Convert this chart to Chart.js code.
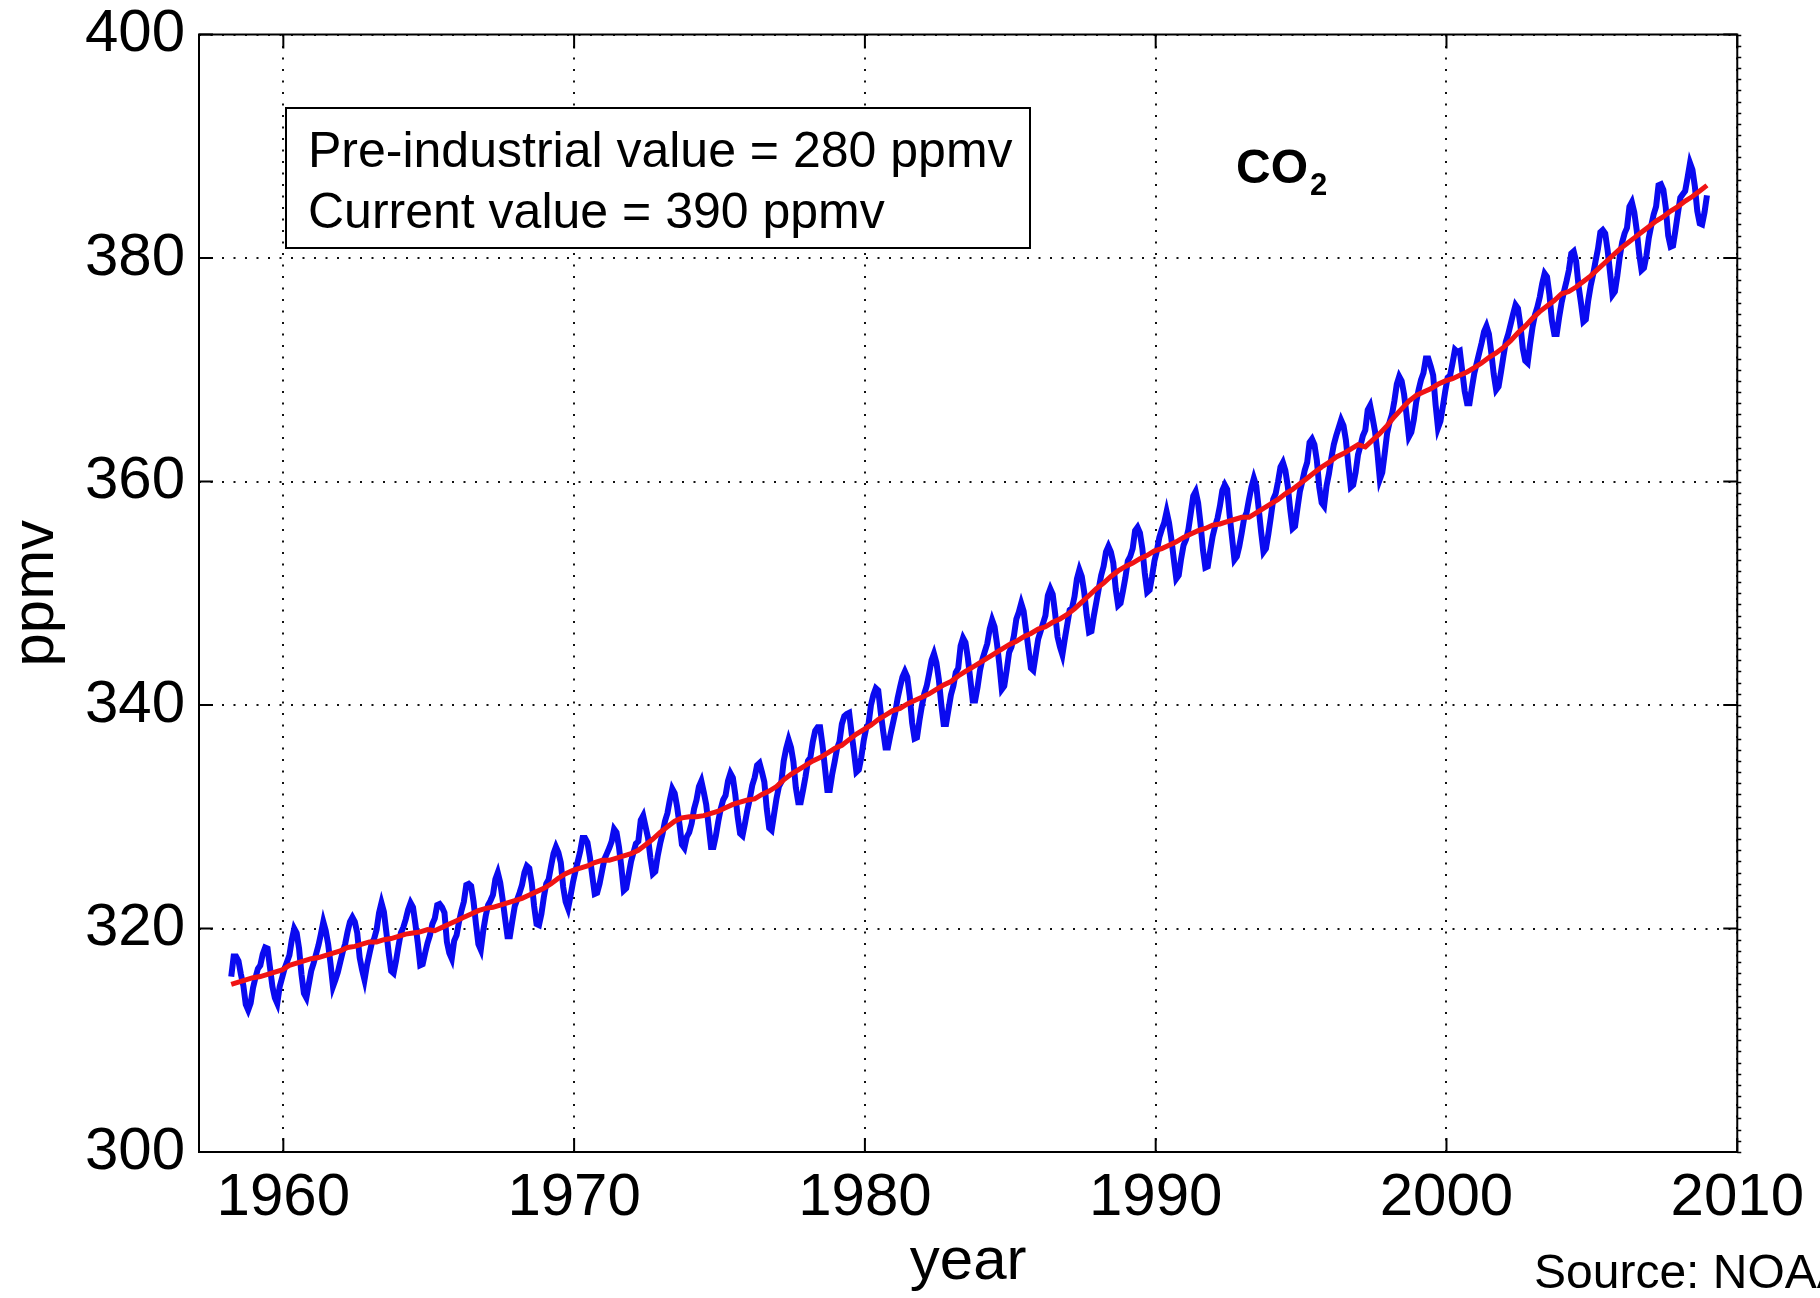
<!DOCTYPE html>
<html>
<head>
<meta charset="utf-8">
<title>Atmospheric CO2 – Mauna Loa</title>
<script src="https://cdn.jsdelivr.net/npm/chart.js@4.4.1/dist/chart.umd.min.js"></script>
<style>
  html, body { margin: 0; padding: 0; background: #fff; }
  #wrap { width: 1820px; height: 1298px; position: relative; }
  canvas { display: block; }
</style>
</head>
<body>
<div id="wrap"><canvas id="co2" width="1820" height="1298"></canvas></div>
<script>
// Monthly mean CO2 (ppmv), one row per year starting in 1958, Jan..Dec
const firstYear = 1958;
const co2Monthly = [
  [null, null, 315.7, 317.5, 317.5, 317.1, 315.9, 314.9, 313.2, 312.7, 313.3, 314.7],
  [315.6, 316.4, 316.7, 317.7, 318.3, 318.2, 316.5, 314.8, 313.8, 313.3, 314.8, 315.6],
  [316.4, 317.0, 317.6, 319.0, 320.0, 319.6, 318.2, 315.9, 314.2, 313.8, 315.0, 316.2],
  [316.9, 317.7, 318.5, 319.5, 320.6, 319.8, 318.6, 316.8, 314.8, 315.4, 316.1, 317.0],
  [317.9, 318.6, 319.7, 320.6, 321.0, 320.6, 319.6, 317.4, 316.3, 315.4, 316.7, 317.7],
  [318.7, 319.1, 319.9, 321.4, 322.3, 321.5, 319.7, 317.8, 316.2, 316.0, 317.1, 318.4],
  [319.6, 320.1, 320.8, 321.7, 322.3, 321.9, 320.4, 318.7, 316.7, 316.8, 317.8, 318.7],
  [319.4, 320.4, 320.9, 322.1, 322.2, 321.9, 321.4, 318.8, 317.8, 317.3, 318.9, 319.4],
  [320.6, 321.6, 322.4, 323.9, 324.0, 323.8, 322.4, 320.4, 318.6, 318.1, 319.8, 321.1],
  [322.1, 322.5, 323.0, 324.4, 325.0, 324.1, 322.6, 320.9, 319.3, 319.3, 320.7, 322.0],
  [322.6, 323.2, 323.9, 325.0, 325.6, 325.4, 324.1, 322.0, 320.4, 320.3, 321.3, 322.8],
  [324.0, 324.4, 325.6, 326.7, 327.3, 326.8, 325.9, 323.7, 322.4, 321.8, 322.9, 324.1],
  [325.1, 326.0, 326.9, 328.1, 328.1, 327.7, 326.4, 324.7, 323.1, 323.2, 324.0, 325.1],
  [326.2, 326.7, 327.2, 327.8, 328.9, 328.6, 327.3, 325.5, 323.4, 323.6, 324.8, 326.0],
  [326.8, 327.6, 327.8, 329.7, 330.1, 329.1, 328.1, 326.3, 324.9, 325.1, 326.5, 327.6],
  [328.5, 329.6, 330.3, 331.5, 332.5, 332.1, 330.9, 329.3, 327.5, 327.2, 328.2, 328.6],
  [329.4, 330.7, 331.5, 332.7, 333.2, 332.2, 331.1, 329.2, 327.3, 327.3, 328.3, 329.6],
  [330.7, 331.5, 331.9, 333.2, 333.9, 333.5, 332.0, 330.0, 328.5, 328.3, 329.4, 330.6],
  [331.6, 332.8, 333.5, 334.6, 334.8, 334.0, 333.1, 330.7, 329.0, 328.8, 330.2, 331.6],
  [332.7, 333.1, 335.0, 336.1, 336.9, 336.2, 334.9, 332.6, 331.3, 331.3, 332.4, 333.6],
  [335.0, 335.3, 336.7, 337.7, 338.0, 338.0, 336.4, 334.4, 332.4, 332.4, 333.8, 334.9],
  [336.1, 336.7, 338.3, 339.0, 339.2, 339.3, 337.5, 335.8, 334.0, 334.2, 335.3, 336.8],
  [337.9, 338.3, 340.0, 340.9, 341.5, 341.3, 339.4, 337.7, 336.2, 336.2, 337.3, 338.3],
  [339.3, 340.6, 341.6, 342.5, 343.0, 342.5, 340.8, 338.4, 337.0, 337.1, 338.6, 339.9],
  [341.0, 341.7, 342.8, 344.0, 344.6, 343.8, 342.3, 340.1, 338.3, 338.3, 339.6, 340.9],
  [341.7, 342.9, 343.3, 345.3, 346.0, 345.6, 344.2, 342.3, 340.4, 340.4, 341.6, 343.1],
  [344.1, 344.8, 345.5, 346.8, 347.6, 347.0, 345.5, 343.6, 341.4, 341.7, 343.1, 344.7],
  [345.2, 346.2, 347.7, 348.3, 349.1, 348.4, 346.7, 345.0, 343.3, 343.1, 344.5, 345.9],
  [346.6, 347.3, 348.0, 349.8, 350.4, 349.9, 348.2, 346.1, 345.2, 344.5, 345.9, 347.2],
  [348.5, 348.7, 349.7, 351.3, 352.1, 351.5, 350.1, 348.1, 346.5, 346.6, 348.0, 349.2],
  [350.4, 351.6, 352.4, 353.7, 354.2, 353.7, 352.7, 350.4, 348.9, 349.1, 350.2, 351.4],
  [352.9, 353.3, 354.0, 355.6, 355.9, 355.4, 354.0, 351.8, 350.1, 350.3, 351.5, 352.9],
  [353.8, 355.0, 355.7, 356.3, 357.3, 356.3, 354.8, 353.0, 351.3, 351.6, 353.1, 354.3],
  [354.8, 355.7, 357.2, 358.7, 359.1, 358.1, 356.2, 353.9, 352.3, 352.4, 353.8, 355.1],
  [356.0, 356.7, 357.8, 359.2, 359.7, 359.3, 357.0, 355.0, 353.0, 353.3, 354.2, 355.4],
  [356.7, 357.2, 358.4, 359.5, 360.3, 359.6, 357.6, 355.5, 353.7, 354.0, 355.3, 356.8],
  [358.4, 358.9, 360.0, 361.3, 361.7, 361.0, 359.6, 357.5, 355.8, 356.0, 357.6, 359.1],
  [360.0, 361.0, 361.7, 363.5, 363.8, 363.3, 361.9, 359.5, 358.1, 357.8, 359.6, 360.7],
  [362.1, 363.3, 364.1, 364.8, 365.5, 365.0, 363.7, 361.5, 359.5, 359.7, 360.8, 362.4],
  [363.2, 364.1, 364.6, 366.4, 366.8, 365.7, 364.5, 362.6, 360.2, 360.8, 362.5, 364.3],
  [365.3, 366.0, 367.2, 368.7, 369.4, 369.0, 367.8, 366.0, 364.0, 364.4, 365.5, 367.1],
  [368.2, 369.1, 369.7, 371.0, 371.0, 370.3, 369.5, 366.9, 364.8, 365.4, 366.7, 368.1],
  [369.3, 369.5, 370.6, 371.8, 371.6, 371.7, 369.9, 368.1, 367.0, 367.0, 368.4, 369.7],
  [370.6, 371.5, 372.4, 373.4, 373.9, 373.2, 371.5, 369.6, 368.2, 368.5, 369.8, 371.2],
  [372.5, 373.2, 374.1, 375.0, 375.8, 375.5, 374.0, 371.9, 370.8, 370.6, 372.3, 373.8],
  [374.9, 375.6, 376.5, 377.7, 378.6, 378.3, 376.7, 374.4, 373.2, 373.2, 374.7, 376.0],
  [377.0, 377.9, 378.9, 380.4, 380.6, 379.7, 377.5, 376.0, 374.3, 374.5, 376.2, 377.5],
  [378.5, 379.7, 380.8, 382.3, 382.5, 382.2, 380.7, 378.7, 376.7, 377.0, 378.4, 380.1],
  [381.4, 382.2, 382.7, 384.6, 385.0, 384.1, 382.5, 380.4, 378.9, 379.1, 380.2, 381.8],
  [382.9, 383.9, 384.6, 386.5, 386.6, 386.1, 384.5, 382.0, 381.0, 381.1, 382.5, 384.0],
  [385.4, 385.7, 386.0, 387.2, 388.5, 387.9, 386.4, 384.2, 383.1, 383.0, 384.1, 385.6]
];

// Seasonally adjusted trend (ppmv), one row per year: Mar, Jun, Sep, Dec
const trendMonths = [2, 5, 8, 11];
const co2Trend = [
  [315.0, 315.2, 315.4, 315.6],
  [315.7, 315.9, 316.1, 316.3],
  [316.7, 316.9, 317.1, 317.3],
  [317.4, 317.6, 317.8, 318.0],
  [318.3, 318.4, 318.6, 318.8],
  [318.8, 319.0, 319.1, 319.3],
  [319.5, 319.6, 319.7, 319.9],
  [319.8, 320.1, 320.4, 320.7],
  [321.0, 321.3, 321.6, 321.8],
  [321.9, 322.1, 322.3, 322.5],
  [322.7, 323.0, 323.3, 323.6],
  [324.0, 324.5, 324.9, 325.2],
  [325.4, 325.6, 325.9, 326.1],
  [326.1, 326.3, 326.5, 326.7],
  [327.0, 327.5, 328.0, 328.6],
  [329.1, 329.6, 329.9, 330.0],
  [330.0, 330.1, 330.3, 330.5],
  [330.8, 331.1, 331.3, 331.5],
  [331.6, 332.0, 332.3, 332.7],
  [333.3, 333.8, 334.2, 334.6],
  [335.0, 335.3, 335.7, 336.1],
  [336.4, 336.9, 337.4, 337.8],
  [338.2, 338.7, 339.1, 339.5],
  [339.7, 340.1, 340.4, 340.7],
  [341.0, 341.4, 341.8, 342.1],
  [342.6, 343.0, 343.4, 343.8],
  [344.2, 344.6, 345.0, 345.4],
  [345.7, 346.1, 346.4, 346.8],
  [347.0, 347.4, 347.7, 348.1],
  [348.6, 349.2, 349.8, 350.4],
  [350.9, 351.5, 352.0, 352.4],
  [352.7, 353.1, 353.4, 353.8],
  [354.0, 354.3, 354.6, 355.0],
  [355.3, 355.6, 355.8, 356.1],
  [356.2, 356.4, 356.6, 356.8],
  [356.8, 357.2, 357.6, 358.0],
  [358.4, 358.9, 359.3, 359.8],
  [360.3, 360.8, 361.3, 361.7],
  [362.2, 362.5, 362.9, 363.3],
  [363.1, 363.7, 364.3, 365.0],
  [365.8, 366.5, 367.2, 367.7],
  [368.0, 368.3, 368.7, 369.0],
  [369.2, 369.5, 369.8, 370.2],
  [370.6, 371.1, 371.5, 372.0],
  [372.6, 373.3, 373.9, 374.6],
  [375.2, 375.7, 376.2, 376.8],
  [377.0, 377.4, 377.9, 378.4],
  [379.0, 379.6, 380.2, 380.8],
  [381.3, 381.8, 382.3, 382.8],
  [383.3, 383.7, 384.2, 384.6],
  [385.1, 385.5, 386.0, 386.5]
];

const yearTicks = [1960, 1970, 1980, 1990, 2000, 2010];
const ppmvTicks = [300, 320, 340, 360, 380, 400];
const infoLines = ['Pre-industrial value = 280 ppmv', 'Current value = 390 ppmv'];
const sourceNote = 'Source: NOAA';

const FONT = "'Liberation Sans', Arial, Helvetica, sans-serif";

// Decimal-year points for the library's linear x scale
const monthlyPoints = [];
co2Monthly.forEach((row, i) => row.forEach((v, m) => {
  if (v !== null) monthlyPoints.push({ x: firstYear + i + (m + 0.5) / 12, y: v });
}));
const trendPoints = [];
co2Trend.forEach((row, i) => row.forEach((v, q) => {
  trendPoints.push({ x: firstYear + i + (trendMonths[q] + 0.5) / 12, y: v });
}));

// Box frame, inward tick marks and the fine 1-ppmv marks on the right edge
const axisFrame = {
  id: 'axisFrame',
  afterDraw(chart) {
    const { ctx, chartArea: a, scales: { x, y } } = chart;
    ctx.save();
    ctx.strokeStyle = '#000';
    ctx.lineWidth = 2;
    ctx.strokeRect(a.left, a.top, a.right - a.left, a.bottom - a.top);
    ctx.beginPath();
    yearTicks.forEach(v => {
      const px = x.getPixelForValue(v);
      ctx.moveTo(px, a.bottom); ctx.lineTo(px, a.bottom - 14);
      ctx.moveTo(px, a.top); ctx.lineTo(px, a.top + 14);
    });
    ppmvTicks.forEach(v => {
      const py = y.getPixelForValue(v);
      ctx.moveTo(a.left, py); ctx.lineTo(a.left + 14, py);
      ctx.moveTo(a.right, py); ctx.lineTo(a.right - 14, py);
    });
    ctx.stroke();
    ctx.lineWidth = 1.5;
    ctx.beginPath();
    for (let v = y.min; v <= y.max; v += 1) {
      const py = Math.round(y.getPixelForValue(v)) + 0.5;
      ctx.moveTo(a.right, py); ctx.lineTo(a.right + 4, py);
    }
    ctx.stroke();
    ctx.restore();
  }
};

// Info box, species label and source line
const annotations = {
  id: 'annotations',
  afterDraw(chart) {
    const ctx = chart.ctx;
    ctx.save();
    ctx.fillStyle = '#fff';
    ctx.fillRect(286, 108, 744, 140);
    ctx.strokeStyle = '#000';
    ctx.lineWidth = 2;
    ctx.strokeRect(286, 108, 744, 140);
    ctx.fillStyle = '#000';
    ctx.textAlign = 'left';
    ctx.textBaseline = 'alphabetic';
    ctx.font = '50px ' + FONT;
    ctx.fillText(infoLines[0], 308, 167);
    ctx.fillText(infoLines[1], 308, 228);

    ctx.font = 'bold 48px ' + FONT;
    ctx.fillText('CO', 1236, 183);
    const w = ctx.measureText('CO').width;
    ctx.font = 'bold 31px ' + FONT;
    ctx.fillText('2', 1236 + w + 2, 195);

    ctx.font = '48px ' + FONT;
    ctx.fillText(sourceNote, 1534, 1288);
    ctx.restore();
  }
};

new Chart(document.getElementById('co2'), {
  type: 'line',
  data: {
    datasets: [
      {
        label: 'trend',
        data: trendPoints,
        borderColor: '#f01414',
        borderWidth: 5,
        pointRadius: 0,
        tension: 0,
        order: 0
      },
      {
        label: 'monthly',
        data: monthlyPoints,
        borderColor: '#0a0af0',
        borderWidth: 6,
        pointRadius: 0,
        tension: 0,
        order: 1
      }
    ]
  },
  options: {
    responsive: false,
    animation: false,
    devicePixelRatio: 1,
    layout: { padding: { left: 0, right: 82, top: 34.5, bottom: 0 } },
    plugins: { legend: { display: false }, tooltip: { enabled: false } },
    scales: {
      x: {
        type: 'linear',
        min: 1957.1,
        max: 2010,
        afterBuildTicks: s => { s.ticks = yearTicks.map(v => ({ value: v })); },
        afterFit: s => { s.height = 146; },
        grid: { color: '#111', lineWidth: 2, drawTicks: false },
        border: { display: false, dash: [2, 9.5] },
        ticks: {
          autoSkip: false, maxRotation: 0, padding: 16, color: '#000',
          font: { family: FONT, size: 60, lineHeight: 1 },
          callback: v => String(v)
        },
        title: {
          display: true, text: 'year', color: '#000', padding: 0,
          font: { family: FONT, size: 60, lineHeight: 1.2 }
        }
      },
      y: {
        min: 300,
        max: 400,
        afterBuildTicks: s => { s.ticks = ppmvTicks.map(v => ({ value: v })); },
        afterFit: s => { s.width = 199; s.paddingTop = 0; s.paddingBottom = 0; },
        grid: { color: '#111', lineWidth: 2, drawTicks: false },
        border: { display: false, dash: [2, 9.5] },
        ticks: {
          padding: 14, color: '#000',
          font: { family: FONT, size: 60, lineHeight: 1 },
          callback: v => String(v)
        },
        title: {
          display: true, text: 'ppmv', color: '#000', padding: 0,
          font: { family: FONT, size: 60, lineHeight: 1.2 }
        }
      }
    }
  },
  plugins: [axisFrame, annotations]
});
</script>
</body>
</html>
